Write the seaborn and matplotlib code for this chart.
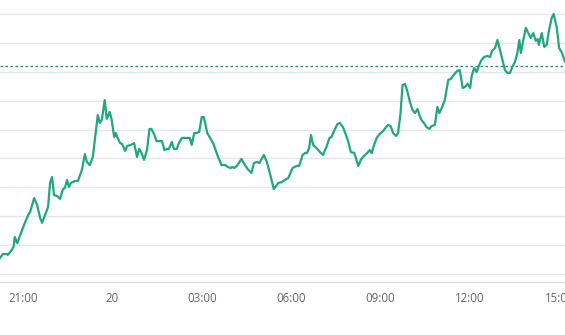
import matplotlib
matplotlib.use("Agg")
import matplotlib.pyplot as plt
import matplotlib.dates as mdates
from matplotlib.ticker import FuncFormatter
import pandas as pd
import seaborn as sns

# ---- data ----
start_time = "2024-05-19 20:00"
# minutes elapsed since start_time
minutes = [14, 20, 28, 30, 38, 42, 44, 49, 55, 65, 71, 75, 83, 89, 95, 99, 105, 111, 115, 119,
           123, 129, 135, 141, 145, 149, 153, 157, 165, 171, 179, 185, 189, 195, 201, 205,
           211, 215, 219, 225, 229, 235, 239, 244, 247, 251, 256, 260, 266, 270, 278, 284,
           290, 294, 299, 304, 310, 315, 319, 325, 329, 336, 340, 345, 350, 354, 360, 364,
           370, 374, 380, 385, 392, 396, 400, 405, 410, 415, 420, 424,
           427, 431, 437, 443, 450, 453, 460, 467, 473, 478, 482, 486, 492, 500, 507, 514,
           520, 525, 531, 536, 545, 551, 557, 565, 574, 581, 587, 594, 603,
           611, 616, 623, 628, 632, 636, 640, 644, 651, 658, 664, 671, 677, 681, 687, 693,
           698, 704, 708, 715, 720, 727, 730, 735, 740, 746, 753, 758, 762, 766, 772, 778,
           785, 791, 795, 800, 805, 811, 815,
           820, 824, 829, 833, 839, 844, 849, 854, 858, 862, 867, 872, 878, 882, 889, 894,
           898, 903, 909, 916, 921, 927, 934, 939, 945,
           949, 955, 960, 963, 968, 973, 978, 983, 988, 995, 1000, 1004, 1010, 1015, 1020,
           1025, 1030, 1035, 1040, 1045, 1050, 1055, 1059, 1062, 1067, 1072, 1077, 1082,
           1087, 1092, 1096, 1098, 1104, 1109, 1114, 1118, 1124, 1128, 1134, 1139, 1144, 1151]
values = [0.55, 0.69, 0.69, 0.66, 0.83, 0.97, 1.28, 1.07, 1.35, 1.80, 2.04, 2.15, 2.63, 2.39,
          1.94, 1.77, 2.04, 2.32, 3.15, 3.36, 2.73, 2.70, 2.60, 2.94, 2.98, 3.25, 3.01, 3.15,
          3.22, 3.22, 3.60, 4.15, 3.88, 3.77, 4.05, 4.64,
          5.50, 5.23, 5.33, 6.02, 5.37, 5.61, 5.33, 4.74, 4.88, 4.71, 4.53, 4.50, 4.26, 4.43,
          4.47, 4.53, 4.05, 4.33, 4.19, 3.95, 4.29, 5.02, 5.02, 4.81, 4.60, 4.60, 4.60, 4.29,
          4.33, 4.33, 4.57, 4.33, 4.33, 4.53, 4.71, 4.71, 4.71, 4.71, 4.47, 4.88, 4.88, 4.92,
          5.43, 5.43,
          5.23, 4.88, 4.71, 4.53, 4.19, 4.05, 3.77, 3.77, 3.70, 3.67, 3.70, 3.67, 3.77, 3.98,
          3.77, 3.60, 3.50, 3.84, 3.88, 3.84, 4.12, 3.88, 3.50, 2.94, 3.15, 3.18, 3.25, 3.32,
          3.67,
          3.74, 3.74, 4.12, 4.19, 4.19, 4.36, 4.81, 4.47, 4.36, 4.22, 4.12, 4.40, 4.71, 4.74,
          4.98, 5.19, 5.23, 5.09, 4.92, 4.57, 4.22, 4.19, 4.02, 3.74, 3.95, 4.08, 4.19, 4.29,
          4.19, 4.43, 4.71, 4.85, 4.95, 5.09, 5.16, 5.12, 4.88, 4.78, 4.88,
          5.57, 6.54, 6.58, 6.37, 5.95, 5.68, 5.57, 5.71, 5.50, 5.33, 5.23, 5.09, 5.02, 5.12,
          5.16, 5.78, 5.57, 5.75, 6.02, 6.72, 6.75, 6.89, 7.03, 7.06, 6.44,
          6.47, 6.58, 6.44, 6.85, 7.13, 6.99, 7.23, 7.41, 7.51, 7.55, 7.51, 7.72, 7.82, 8.10,
          7.75, 7.41, 7.06, 6.96, 6.96, 7.17, 7.34, 7.65, 8.10, 7.65, 8.10, 8.52, 8.34, 8.17,
          8.34, 8.07, 8.13, 7.93, 8.34, 7.86, 7.93, 8.38, 8.86, 9.00, 8.55, 7.82, 7.68, 7.34]
reference_level = 7.20
grid_levels = [0, 1, 2, 3, 4, 5, 6, 7, 8, 9]
tick_hours = [0, 3, 6, 9, 12, 15, 18, 21]

# ---- style ----
sns.set_style("white")
plt.rcParams["font.family"] = ["Open Sans", "DejaVu Sans"]

start = pd.Timestamp(start_time)
df = pd.DataFrame({"time": start + pd.to_timedelta(minutes, unit="m"), "value": values})

fig = plt.figure(figsize=(5.65, 3.35), dpi=100)
ax = fig.add_axes([0, 53 / 335, 1, 282 / 335])

sns.lineplot(data=df, x="time", y="value", color="#1fa87d", linewidth=1.6, ax=ax,
             zorder=3)
ax.axhline(reference_level, color="#2a7d6b", linewidth=0.9, linestyle=(0, (2, 2)),
           zorder=2)

ax.set_xlim(start + pd.Timedelta(minutes=14.3), start + pd.Timedelta(minutes=1150.8))
ax.set_ylim(-0.277, 9.484)

ax.set_yticks(grid_levels)
ax.yaxis.grid(True, color="#e6e6e6", linewidth=1)
ax.xaxis.grid(False)
ax.set_axisbelow(True)
ax.tick_params(axis="y", left=False, labelleft=False)

ax.xaxis.set_major_locator(mdates.HourLocator(byhour=tick_hours))


def fmt(x, pos):
    d = mdates.num2date(x)
    return d.strftime("%d") if d.hour == 0 else d.strftime("%H:%M")


ax.xaxis.set_major_formatter(FuncFormatter(fmt))
ax.tick_params(axis="x", length=3, width=1, color="#d8d8d8", labelsize=8.3,
               labelcolor="#666666", pad=4)

for s in ["top", "left", "right"]:
    ax.spines[s].set_visible(False)
ax.spines["bottom"].set_color("#dcdcdc")
ax.spines["bottom"].set_linewidth(1)
ax.set_xlabel("")
ax.set_ylabel("")

fig.savefig("out.png", dpi=100)
